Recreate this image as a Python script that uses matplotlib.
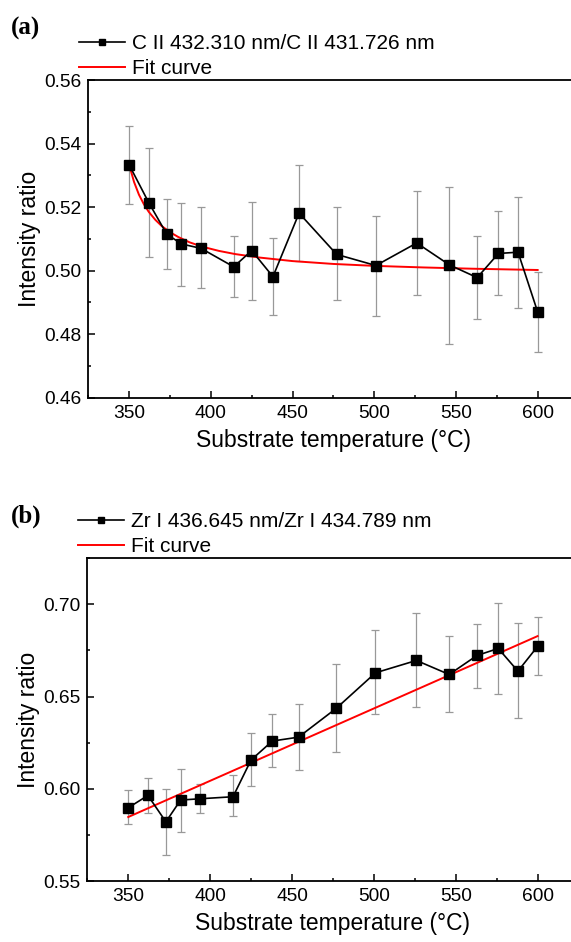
"""Intensity ratios vs substrate temperature, panels (a) and (b)"""
import numpy as np
import matplotlib
matplotlib.use("Agg")
import matplotlib.pyplot as plt
from matplotlib.ticker import MultipleLocator

plt.rcParams["font.family"] = ["Liberation Sans", "DejaVu Sans"]

temp = [350, 362, 373, 382, 394, 414, 425, 438, 454, 477, 501, 526, 546, 563, 576, 588, 600]

# panel (a): C II ratio
c_ratio = [0.5333, 0.5214, 0.5115, 0.5084, 0.5070, 0.5012, 0.5063, 0.4981, 0.5181,
           0.5051, 0.5016, 0.5087, 0.5018, 0.4978, 0.5054, 0.5058, 0.4870]
c_err_hi = [0.5456, 0.5387, 0.5225, 0.5214, 0.5199, 0.5109, 0.5217, 0.5102, 0.5332,
            0.5199, 0.5172, 0.5251, 0.5263, 0.5110, 0.5188, 0.5232, 0.4996]
c_err_lo = [0.5210, 0.5044, 0.5005, 0.4953, 0.4944, 0.4918, 0.4908, 0.4860, 0.5031,
            0.4908, 0.4858, 0.4923, 0.4769, 0.4848, 0.4923, 0.4883, 0.4745]
c_fit_t = [350, 353, 356, 359, 362, 366, 370, 375, 380, 387, 395, 405, 415, 430,
           450, 475, 500, 530, 560, 600]
c_fit = [0.5333, 0.5279, 0.5239, 0.5209, 0.5185, 0.5160, 0.5140, 0.5121, 0.5106,
         0.5089, 0.5075, 0.5062, 0.5052, 0.5041, 0.5030, 0.5021, 0.5015, 0.5010,
         0.5006, 0.5002]

# panel (b): Zr I ratio
zr_ratio = [0.5897, 0.5964, 0.5821, 0.5939, 0.5946, 0.5957, 0.6156, 0.6259, 0.6280,
            0.6436, 0.6629, 0.6696, 0.6620, 0.6723, 0.6761, 0.6638, 0.6772]
zr_err_hi = [0.5991, 0.6060, 0.6000, 0.6108, 0.6027, 0.6073, 0.6300, 0.6407, 0.6461,
             0.6675, 0.6859, 0.6951, 0.6830, 0.6892, 0.7009, 0.6897, 0.6930]
zr_err_lo = [0.5807, 0.5870, 0.5640, 0.5765, 0.5867, 0.5852, 0.6015, 0.6118, 0.6100,
             0.6200, 0.6403, 0.6443, 0.6416, 0.6548, 0.6512, 0.6382, 0.6617]
zr_fit_t = [350, 600]
zr_fit = [0.5847, 0.6828]

W, H = 571, 942
fig = plt.figure(figsize=(W / 100, H / 100), dpi=100)
ax_a = fig.add_axes([88.3 / W, 1 - 397.7 / H, 490.2 / W, 317.7 / H])
ax_b = fig.add_axes([87.3 / W, 1 - 881 / H, 491.2 / W, 322.7 / H])

panels = [
    (ax_a, c_ratio, c_err_lo, c_err_hi, c_fit_t, c_fit,
     "C II 432.310 nm/C II 431.726 nm", (0.46, 0.56), 0.02, 0.01, "(a)", 28),
    (ax_b, zr_ratio, zr_err_lo, zr_err_hi, zr_fit_t, zr_fit,
     "Zr I 436.645 nm/Zr I 434.789 nm", (0.55, 0.725), 0.05, 0.025, "(b)", 516),
]

for ax, y, lo, hi, ft, fv, label, ylim, ymaj, ymin, tag, tag_y in panels:
    y = np.array(y)
    yerr = [y - np.array(lo), np.array(hi) - y]
    ax.errorbar(temp, y, yerr=yerr, fmt="none", ecolor="#999999", elinewidth=0.9,
                capsize=2.6, capthick=0.9, zorder=1)
    ax.plot(temp, y, color="black", lw=1.2, marker="s", ms=6.5,
            label=label, zorder=3)
    ax.plot(ft, fv, color="#ff0000", lw=1.4, label="Fit curve", zorder=2)

    ax.set_xlim(325, 625)
    ax.set_ylim(*ylim)
    ax.xaxis.set_major_locator(MultipleLocator(50))
    ax.xaxis.set_minor_locator(MultipleLocator(25))
    ax.yaxis.set_major_locator(MultipleLocator(ymaj))
    ax.yaxis.set_minor_locator(MultipleLocator(ymin))
    ax.yaxis.set_major_formatter(plt.FormatStrFormatter("%.2f"))
    ax.tick_params(which="both", direction="in", top=False, right=False,
                   labelsize=13.8, width=1.1)
    ax.tick_params(which="major", length=5, pad=5)
    ax.tick_params(which="minor", length=2.5)
    for s in ax.spines.values():
        s.set_linewidth(1.3)

    ax.set_xlabel("Substrate temperature (°C)", fontsize=16.5, labelpad=5)
    ax.set_ylabel("Intensity ratio", fontsize=16.5, labelpad=2)

    ax.legend(loc="lower left", bbox_to_anchor=(-0.018, 1.006), frameon=False,
              fontsize=15, handlelength=2.2, handletextpad=0.3, labelspacing=0.3,
              borderpad=0, borderaxespad=0, markerscale=0.6)
    fig.text(11 / W, 1 - tag_y / H, tag, fontsize=18, fontweight="bold",
             family="Liberation Serif", va="center", ha="left")

fig.savefig("out.png", dpi=100)
